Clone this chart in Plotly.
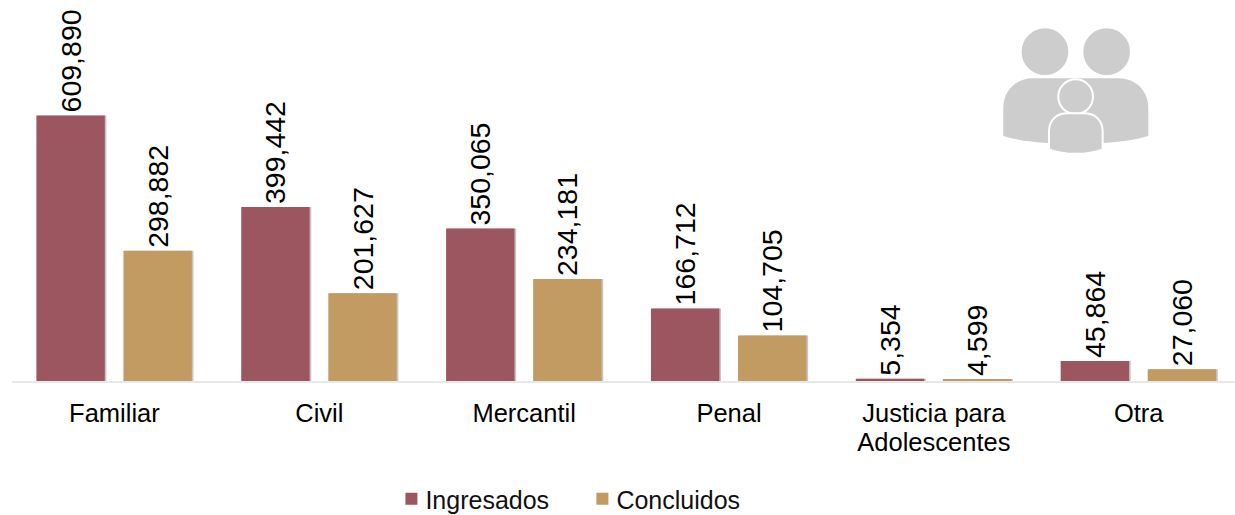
import plotly.graph_objects as go

categories = ["Familiar", "Civil", "Mercantil", "Penal", "Justicia para<br>Adolescentes", "Otra"]
ingresados = [609890, 399442, 350065, 166712, 5354, 45864]
concluidos = [298882, 201627, 234181, 104705, 4599, 27060]

W, H = 1235, 515
L, B = 12.2, 134
MAROON = "#9C5660"
TAN = "#C29B62"
ICON = "#CDCDCD"
FONT = "Liberation Sans, Arial, sans-serif"
BAR_W = 0.334


def sx(v):
    return (980 + v / 3 - L) / (W - L)


def sy(v):
    return (H - B - (10 + v / 3)) / (H - B)


def path(cmds):
    out = []
    for c in cmds:
        out.append(c[0] + " " + " ".join(
            f"{sx(c[i]):.5f},{sy(c[i + 1]):.5f}" for i in range(1, len(c), 2)))
    return " ".join(out) + " Z"


def circle(cx, cy, r):
    return dict(type="circle", xref="paper", yref="paper",
                x0=sx(cx - r), x1=sx(cx + r), y0=sy(cy + r), y1=sy(cy - r),
                fillcolor=ICON, line=dict(color="white", width=2))


def blob(cmds, white=False):
    return dict(type="path", xref="paper", yref="paper", path=path(cmds),
                fillcolor=ICON,
                line=dict(color="white" if white else ICON, width=2 if white else 0))


shapes = [
    circle(195, 125, 73),
    circle(380, 125, 73),
    blob([("M", 70, 378), ("L", 70, 295), ("C", 70, 240, 110, 205, 160, 205),
          ("L", 300, 205), ("L", 300, 400), ("C", 250, 402, 140, 400, 70, 378)]),
    blob([("M", 505, 378), ("L", 505, 295), ("C", 505, 240, 465, 205, 415, 205),
          ("L", 280, 205), ("L", 280, 400), ("C", 330, 402, 435, 400, 505, 378)]),
    circle(287, 260, 52),
    blob([("M", 207, 418), ("L", 207, 365), ("C", 207, 330, 230, 310, 262, 310),
          ("L", 312, 310), ("C", 345, 310, 368, 330, 368, 365), ("L", 368, 418),
          ("C", 320, 436, 255, 436, 207, 418)], white=True),
]

fig = go.Figure()
for name, vals, off in [("s1", ingresados, -0.381), ("s2", concluidos, 0.044)]:
    fig.add_trace(go.Bar(x=categories, y=vals, width=BAR_W, offset=off + 0.008,
                         marker=dict(color="rgba(90,90,90,0.35)", line_width=0),
                         showlegend=False, hoverinfo="skip"))
for name, vals, off, col in [("Ingresados", ingresados, -0.381, MAROON),
                             ("Concluidos", concluidos, 0.044, TAN)]:
    fig.add_trace(go.Bar(x=categories, y=vals, name=name, width=BAR_W, offset=off,
                         marker=dict(color=col, line_width=0),
                         texttemplate="%{y:,}", textposition="outside", textangle=-90,
                         constraintext="none",
                         textfont=dict(family=FONT, size=28.5, color="black"),
                         cliponaxis=False))

fig.update_layout(
    width=W, height=H, barmode="overlay", plot_bgcolor="white", paper_bgcolor="white",
    margin=dict(l=L, r=0, t=0, b=B, autoexpand=False),
    font=dict(family=FONT, color="black"),
    shapes=shapes,
    legend=dict(orientation="h", x=0.4615, xanchor="center", y=-0.31, yanchor="middle",
                font=dict(family=FONT, size=25, color="#111111"),
                itemwidth=30, traceorder="normal",
                entrywidth=146, entrywidthmode="pixels"),
    xaxis=dict(type="category", range=[-0.5, 5.47], showgrid=False, ticks="",
               showline=True, linecolor="#E8E8E8", linewidth=2,
               tickfont=dict(family=FONT, size=25.5, color="black"), ticklabelstandoff=8),
    yaxis=dict(range=[0, 875000], visible=False),
)
post = """
document.body.style.margin='0';document.body.style.overflow='hidden';
document.querySelectorAll('.xtick text tspan.line').forEach(function(t){
  if(parseFloat(t.getAttribute('dy'))>0){t.setAttribute('dy','1.14em');}
});
document.querySelectorAll('.legendpoints').forEach(function(g){
  g.setAttribute('transform','translate(6,0)');
});
"""
fig.write_html("out.html", post_script=post, config={"displayModeBar": False})
